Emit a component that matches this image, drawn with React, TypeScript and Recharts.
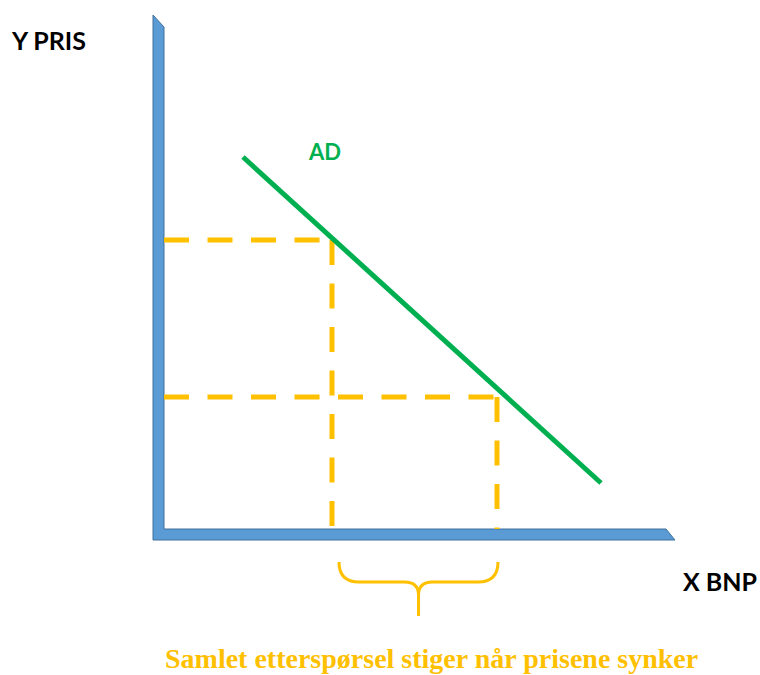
import React from 'react';
import { LineChart, Line, XAxis, YAxis, ReferenceLine, ReferenceArea } from 'recharts';

// AD curve (quantity on x, price on y), in chart units 0..10
const AD_QTY = [1.58, 8.74];
const AD_PRICE = [7.44, 0.92];

// price levels and the quantities they give
const PRICES = [5.78, 2.64];
const QUANTITIES = [3.36, 6.66];

const adData = AD_QTY.map((q, i) => ({ q, p: AD_PRICE[i] }));

const YELLOW = '#FFC000';
const GREEN = '#00B050';

// L-shaped blue axes with slanted ends
const AxesShape = (props: any) => {
  const { x, y, width, height } = props;
  const t = 11;
  const left = x;
  const top = y;
  const right = x + width;
  const bottom = y + height;
  const pts = [
    [left, top],
    [left + t, top + 12],
    [left + t, bottom - t],
    [right - 9, bottom - t],
    [right, bottom],
    [left, bottom],
  ]
    .map((p) => p.join(','))
    .join(' ');
  return <polygon points={pts} fill="#5B9BD5" stroke="#41719C" strokeWidth={1} />;
};

// curly brace under the change in quantity
const BraceShape = (props: any) => {
  const { x, y, width, height } = props;
  const left = x;
  const right = x + width;
  const top = y;
  const bottom = y + height;
  const cx = left + width / 2;
  const midY = top + 20;
  const tipY = top + 33;
  const d = [
    `M${left},${top}`,
    `Q${left},${midY} ${left + 20},${midY}`,
    `L${cx - 14},${midY}`,
    `Q${cx},${midY} ${cx},${tipY}`,
    `L${cx},${bottom}`,
    `M${cx},${tipY}`,
    `Q${cx},${midY} ${cx + 14},${midY}`,
    `L${right - 20},${midY}`,
    `Q${right},${midY} ${right},${top}`,
  ].join(' ');
  return <path d={d} fill="none" stroke={YELLOW} strokeWidth={3} />;
};

const labelStyle: React.CSSProperties = {
  position: 'absolute',
  fontFamily: 'Lato, "Open Sans", sans-serif',
  fontWeight: 700,
  margin: 0,
  lineHeight: 1,
  whiteSpace: 'nowrap',
};

export default function App() {
  return (
    <div style={{ position: 'absolute', left: 0, top: 0, width: 760, height: 675, background: '#fff' }}>
      <LineChart width={760} height={675} data={adData} margin={{ top: 29, right: 96, bottom: 146, left: 164 }}>
        <XAxis type="number" dataKey="q" domain={[0, 10]} hide />
        <YAxis type="number" dataKey="p" domain={[0, 10]} hide />

        <ReferenceArea x1={-0.22} x2={10.22} y1={-0.22} y2={10.28} ifOverflow="visible" shape={<AxesShape />} />

        {PRICES.map((p, i) => (
          <ReferenceLine
            key={`h${i}`}
            segment={[{ x: 0, y: p }, { x: QUANTITIES[i], y: p }]}
            stroke={YELLOW}
            strokeWidth={5}
            strokeDasharray="25 18.5"
            ifOverflow="visible"
          />
        ))}
        {PRICES.map((p, i) => (
          <ReferenceLine
            key={`v${i}`}
            segment={[{ x: QUANTITIES[i], y: p }, { x: QUANTITIES[i], y: 0 }]}
            stroke={YELLOW}
            strokeWidth={5}
            strokeDasharray="25 18.5"
            ifOverflow="visible"
          />
        ))}

        <ReferenceArea
          x1={QUANTITIES[0] + 0.14}
          x2={QUANTITIES[1] + 0.02}
          y1={-1.74}
          y2={-0.66}
          ifOverflow="visible"
          shape={<BraceShape />}
        />

        <Line
          type="linear"
          dataKey="p"
          stroke={GREEN}
          strokeWidth={5}
          dot={false}
          isAnimationActive={false}
        />
      </LineChart>

      <div style={{ ...labelStyle, left: 12, top: 28, fontSize: 25, color: '#000' }}>Y PRIS</div>
      <div style={{ ...labelStyle, left: 683, top: 569, fontSize: 25, color: '#000' }}>X BNP</div>
      <div style={{ ...labelStyle, left: 309, top: 141, fontSize: 22, color: GREEN }}>AD</div>
      <div
        style={{
          ...labelStyle,
          left: 165,
          top: 645,
          fontSize: 28,
          color: YELLOW,
          fontFamily: '"Liberation Serif", "DejaVu Serif", serif',
        }}
      >
        Samlet etterspørsel stiger når prisene synker
      </div>
    </div>
  );
}
